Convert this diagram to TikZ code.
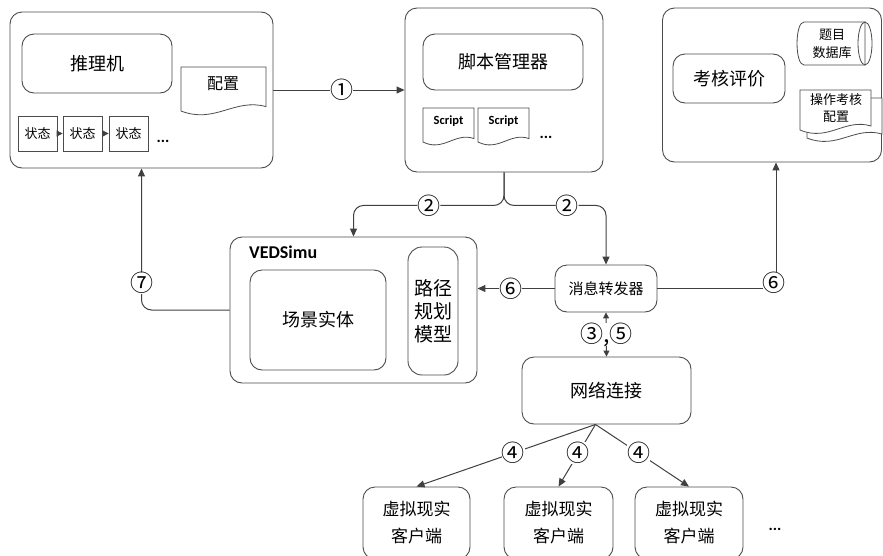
\documentclass[tikz,border=0pt]{standalone}
\usepackage{fontspec}
\setmainfont{Liberation Serif}
\newfontfamily\cjk{Noto Sans CJK SC}
\newfontfamily\calb{Carlito}
\usetikzlibrary{arrows.meta,calc}
\definecolor{linec}{gray}{0.25}
\definecolor{boxc}{gray}{0.3}
\tikzset{
  rbox/.style={draw=boxc, line width=0.9pt, rounded corners=12pt, inner sep=0pt, align=center, fill=white},
  sbox/.style={draw=boxc, line width=0.8pt, inner sep=0pt, fill=white},
  conn/.style={draw=linec, line width=1pt, -{Triangle[length=8pt,width=7pt]}},
  lab/.style={fill=white, inner sep=0pt, font=\cjk\fontsize{23}{23}\selectfont},
  docline/.style={draw=boxc, line width=0.8pt, fill=white},
  pics/docshape/.style 2 args={code={
    \path[docline] (0,0) -- (#1,0) -- (#1,0.9*#2) .. controls (0.63*#1,0.7*#2) and (0.4*#1,1.3*#2) .. (0,#2) -- cycle;}},
  dots/.style={font=\calb\bfseries\fontsize{16}{16}\selectfont, inner sep=0pt}
}
\begin{document}
\begin{tikzpicture}[x=1pt,y=-1pt]
\useasboundingbox (0,0) rectangle (883,555);
\clip (0,0) rectangle (883,555);

% ---------- box 1: inference ----------
\node[rbox, minimum width=263pt, minimum height=156pt] (infer) at (141.5,90) {};
\node[rbox, minimum width=150pt, minimum height=59pt, font=\cjk\fontsize{18}{18}\selectfont] (engine) at (97,63.5) {推理机};
\pic at (181,67) {docshape={85}{44}};
\node[font=\cjk\fontsize{16}{16}\selectfont] (cfg) at (223,84) {配置};
\node[sbox, minimum width=39pt, minimum height=35pt, font=\cjk\fontsize{13}{13}\selectfont] (s1) at (37.5,133.5) {状态};
\node[sbox, minimum width=39pt, minimum height=35pt, font=\cjk\fontsize{13}{13}\selectfont] (s2) at (82.5,133.5) {状态};
\node[sbox, minimum width=39pt, minimum height=35pt, font=\cjk\fontsize{13}{13}\selectfont] (s3) at (128.5,133.5) {状态};
\draw[draw=linec, line width=0.8pt, -{Triangle[length=6pt,width=6pt]}] (s1.east) -- (s2.west);
\draw[draw=linec, line width=0.8pt, -{Triangle[length=6pt,width=6pt]}] (s2.east) -- (s3.west);
\node[dots] (d1) at (163,141) {...};

% ---------- box 2: script manager ----------
\node[rbox, minimum width=198pt, minimum height=164pt] (script) at (504,90) {};
\node[rbox, minimum width=160pt, minimum height=56pt, font=\cjk\fontsize{18}{18}\selectfont] (mgr) at (503,62) {脚本管理器};
\pic at (423,108) {docshape={51}{34}};
\pic at (478,108) {docshape={51}{34}};
\node[font=\calb\bfseries\fontsize{12.5}{12.5}\selectfont] (sc1) at (448.5,121) {Script};
\node[font=\calb\bfseries\fontsize{12.5}{12.5}\selectfont] (sc2) at (503.5,121) {Script};
\node[dots] (d2) at (546,137) {...};

% ---------- box 3: evaluation ----------
\node[rbox, minimum width=219pt, minimum height=154pt] (eval) at (772,85) {};
\node[rbox, minimum width=112pt, minimum height=49pt, font=\cjk\fontsize{18}{18}\selectfont] (assess) at (729,78.5) {考核评价};
% cylinder (question database)
\path[docline] (804,22) -- (865,22) -- (865,65) -- (804,65) .. controls (794.7,65) and (794.7,22) .. (804,22) -- cycle;
\draw[draw=boxc, line width=0.8pt] (865,43.5) ellipse [x radius=7, y radius=21.5];
\node[font=\cjk\fontsize{13}{18}\selectfont, align=center] (qdb) at (832,44) {题目\\数据库};
% multi-document
\pic at (807,98) {docshape={75}{40}};
\pic at (800,90) {docshape={71}{40}};
\node[font=\cjk\fontsize{13}{17}\selectfont, align=center] (opcfg) at (836,108) {操作考核\\配置};

% ---------- VEDSimu ----------
\node[rbox, minimum width=247pt, minimum height=146pt] (ved) at (353.5,310) {};
\node[anchor=west, font=\calb\bfseries\fontsize{18}{18}\selectfont, inner sep=0pt] (vedt) at (249,252) {VEDSimu};
\node[rbox, minimum width=136pt, minimum height=100pt, font=\cjk\fontsize{18}{18}\selectfont] (scene) at (318,320) {场景实体};
\node[rbox, minimum width=50pt, minimum height=128pt, rounded corners=14pt, font=\cjk\fontsize{19}{23}\selectfont] (path) at (433,311) {路径\\规划\\模型};

% ---------- message / network / clients ----------
\node[rbox, minimum width=102pt, minimum height=47pt, font=\cjk\fontsize{15}{15}\selectfont] (msg) at (606,288.5) {消息转发器};
\node[rbox, minimum width=169pt, minimum height=67pt, font=\cjk\fontsize{18}{18}\selectfont] (net) at (606.5,390.5) {网络连接};
\node[rbox, minimum width=107pt, minimum height=72pt, font=\cjk\fontsize{17}{27}\selectfont] (c1) at (416.5,523) {虚拟现实\\客户端};
\node[rbox, minimum width=109pt, minimum height=72pt, font=\cjk\fontsize{17}{27}\selectfont] (c2) at (558.5,523) {虚拟现实\\客户端};
\node[rbox, minimum width=108pt, minimum height=72pt, font=\cjk\fontsize{17}{27}\selectfont] (c3) at (689,523) {虚拟现实\\客户端};
\node[dots] (d3) at (775,529) {...};
\coordinate (hub) at ([xshift=-11pt]net.south);

% ---------- connectors ----------
\draw[conn] (infer.east) -- node[lab, pos=0.52]{①} (script.west);
\draw[conn, rounded corners=10pt] (script.south) -- ++(0,33) -| node[lab, pos=0.25]{②} (ved.north);
\draw[conn, rounded corners=10pt] (script.south) -- ++(0,33) -| node[lab, pos=0.31]{②} (msg.north);
\draw[conn] (msg.west) -- node[lab, pos=0.57]{⑥} (msg.west -| ved.east);
\draw[conn] (msg.east) -| node[lab, pos=0.5, xshift=-2pt, yshift=6pt]{⑥} ([xshift=4pt]eval.south);
\draw[conn, rounded corners=10pt] (ved.west) -| node[lab, pos=0.595]{⑦} (infer.south);
\draw[draw=linec, line width=1pt, {Triangle[length=6pt,width=6pt]}-{Triangle[length=6pt,width=6pt]}] (msg.south) -- node[lab]{③,⑤} (net.north);
\draw[conn] (hub) -- node[lab, pos=0.46]{④} (c1.north);
\draw[conn] (hub) -- node[lab, pos=0.46]{④} (c2.north);
\draw[conn] (hub) -- node[lab, pos=0.46]{④} (c3.north);
\end{tikzpicture}
\end{document}
